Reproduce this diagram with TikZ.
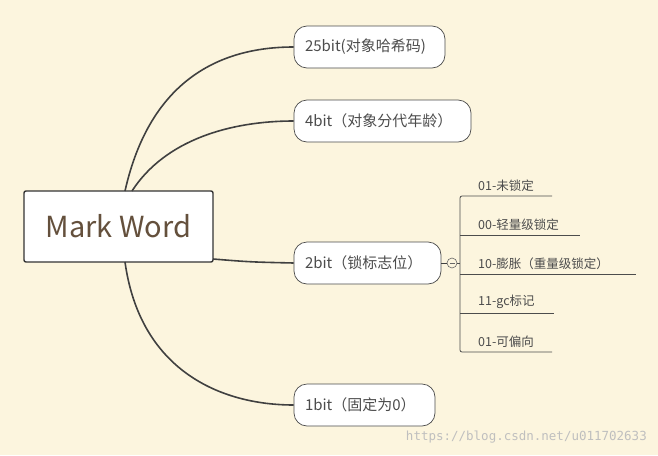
\documentclass[tikz,border=0pt]{standalone}
\usepackage{fontspec}
\setmainfont{Noto Sans CJK SC}
\newfontfamily\monof{DejaVu Sans Mono}
\begin{document}
\begin{tikzpicture}[x=1pt,y=-1pt,
  conn/.style={draw=black!75,line width=1.6pt},
  topic/.style={draw=black!70,line width=0.7pt,fill=white,rounded corners=13pt,minimum height=42pt,text=black!70,font=\fontsize{15}{17}\selectfont,inner sep=0pt,align=left,text width=#1,minimum width=#1},
  sub/.style={text=black!70,font=\fontsize{12.5}{14}\selectfont,anchor=south west,inner sep=0pt},
  uline/.style={draw=black!70,line width=0.8pt}]
\fill[fill={rgb,255:red,252;green,245;blue,222}] (0,0) rectangle (658,455);
\useasboundingbox (0,0) rectangle (658,455);
\node[draw=black!80,line width=1.4pt,fill=white,rounded corners=2pt,minimum width=189pt,minimum height=71pt,inner sep=0pt,text={rgb,255:red,100;green,80;blue,60},font=\fontsize{29}{32}\selectfont] (mw) at (118.5,226.5) {Mark Word};
\node[topic=151pt] (a) at (369.5,47) {\hspace*{11pt}25bit(对象哈希码)};
\node[topic=177pt] (b) at (382.5,121) {\hspace*{11pt}4bit（对象分代年龄）};
\node[topic=147pt] (c) at (367.5,263) {\hspace*{11pt}2bit（锁标志位）};
\node[topic=141pt] (d) at (364.5,405) {\hspace*{11pt}1bit（固定为0）};
\coordinate (m1) at (125,191);
\coordinate (m2) at (132,191);
\coordinate (m3) at (125,262);
\coordinate (m4) at (213,259);
\draw[conn] (m1) .. controls (150,80) and (220,47) .. (a.west);
\draw[conn] (m2) .. controls (165,140) and (230,121) .. (b.west);
\draw[conn] (m4) .. controls (250,262) .. (c.west);
\draw[conn] (m3) .. controls (140,370) and (220,405) .. (d.west);
\node[draw=black!60,line width=0.6pt,circle,minimum size=10pt,inner sep=0pt] (k) at (452,263) {};
\draw[black!60,line width=0.6pt] ([xshift=-2.5pt]k.center) -- ([xshift=2.5pt]k.center);
\draw[black!75,line width=1pt] (c.east) -- (k.west);
\coordinate (br) at (460,263);
\draw[uline] (k.east) -- (br);
\draw[uline,rounded corners=2pt] (552,196) -- (460,196) -- (460,352) -- (552,352);
\draw[uline] (460,235) -- (580,235);
\draw[uline] (460,274) -- (636,274);
\draw[uline] (460,313) -- (554,313);
\node[sub] (s1) at (478,192) {01-未锁定};
\node[sub] (s2) at (478,231) {00-轻量级锁定};
\node[sub] (s3) at (478,270) {10-膨胀（重量级锁定）};
\node[sub] (s4) at (478,309) {11-gc标记};
\node[sub] (s5) at (478,348) {01-可偏向};
\node[anchor=south east,inner sep=0pt,text=black!25,font=\monof\fontsize{12.5}{14}\selectfont] (w) at (647,443) {https://blog.csdn.net/u011702633};
\end{tikzpicture}
\end{document}
